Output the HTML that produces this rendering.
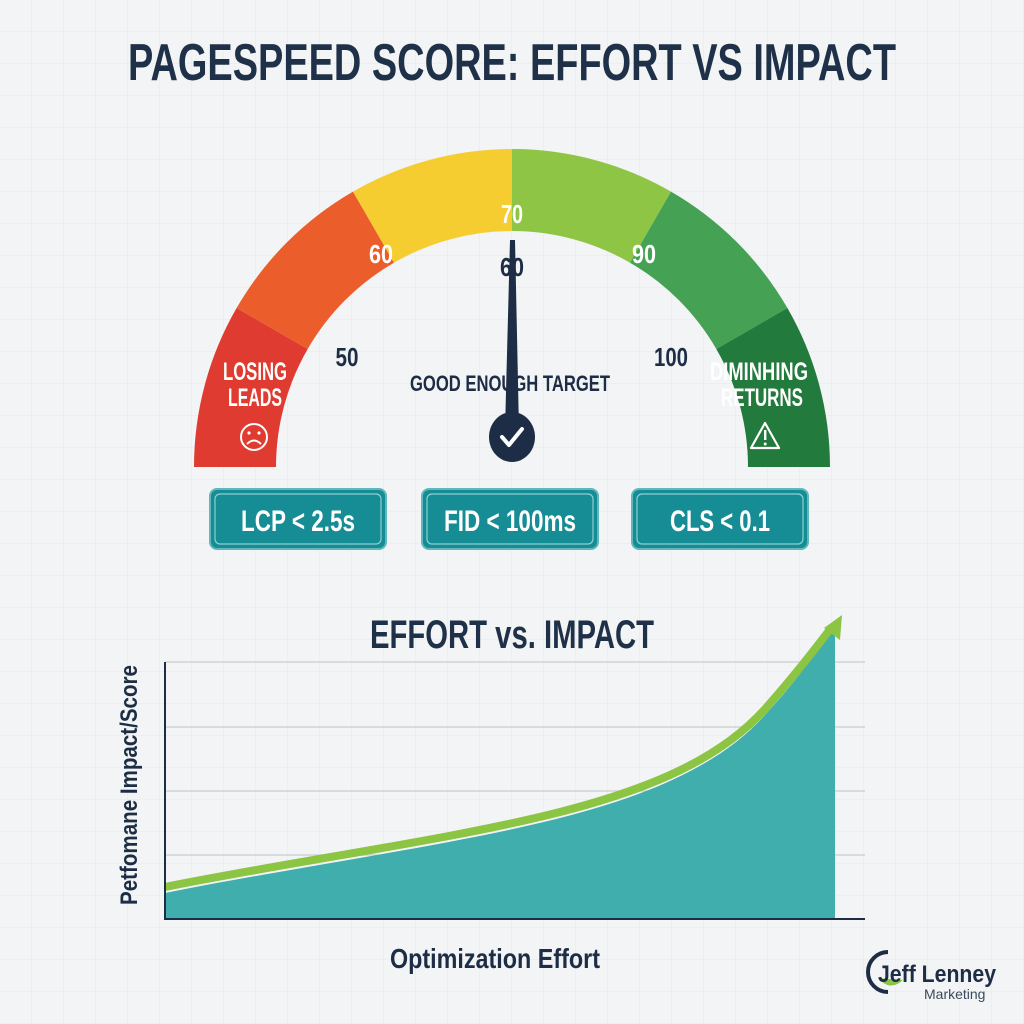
<!DOCTYPE html>
<html><head><meta charset="utf-8"><style>
html,body{margin:0;padding:0;background:#f3f4f5;}
svg{display:block;}
text{font-family:"Liberation Sans Narrow","Liberation Sans",sans-serif;font-weight:bold;}
</style></head><body>
<svg width="1024" height="1024" viewBox="0 0 1024 1024" xmlns="http://www.w3.org/2000/svg">
<defs>
<pattern id="g" width="32" height="32" patternUnits="userSpaceOnUse">
<path d="M32 0V32M0 32H32" stroke="#e4e7ea" stroke-width="1" fill="none"/>
</pattern>
</defs>
<rect width="1024" height="1024" fill="#f3f4f5"/>
<rect width="1024" height="1024" fill="url(#g)"/>
<text x="512" y="80" text-anchor="middle" font-size="52" fill="#1f3148" textLength="768" lengthAdjust="spacingAndGlyphs">PAGESPEED SCORE: EFFORT VS IMPACT</text>

<g transform="translate(512,467)">
<path d="M-318 0 A318 318 0 0 1 -275.4 -159 L-204.3 -118 A236 236 0 0 0 -236 0Z" fill="#e03b30"/>
<path d="M-275.4 -159 A318 318 0 0 1 -159 -275.4 L-118 -204.3 A236 236 0 0 0 -204.3 -118Z" fill="#eb5d2b"/>
<path d="M-159 -275.4 A318 318 0 0 1 0 -318 L0 -236 A236 236 0 0 0 -118 -204.3Z" fill="#f6cd30"/>
<path d="M0 -318 A318 318 0 0 1 159 -275.4 L118 -204.3 A236 236 0 0 0 0 -236Z" fill="#8fc545"/>
<path d="M159 -275.4 A318 318 0 0 1 275.4 -159 L204.3 -118 A236 236 0 0 0 118 -204.3Z" fill="#45a153"/>
<path d="M275.4 -159 A318 318 0 0 1 318 0 L236 0 A236 236 0 0 0 204.3 -118Z" fill="#237a3d"/>
</g>
<g font-size="26" text-anchor="middle" lengthAdjust="spacingAndGlyphs">
<text x="512" y="223" fill="#fff" textLength="22" lengthAdjust="spacingAndGlyphs">70</text>
<text x="381" y="263" fill="#fff" textLength="24" lengthAdjust="spacingAndGlyphs">60</text>
<text x="644" y="263" fill="#fff" textLength="24" lengthAdjust="spacingAndGlyphs">90</text>
<text x="512" y="276" fill="#1d2d45" textLength="24" lengthAdjust="spacingAndGlyphs">60</text>
<text x="347" y="366" fill="#1d2d45" textLength="23" lengthAdjust="spacingAndGlyphs">50</text>
<text x="671" y="366" fill="#1d2d45" textLength="34" lengthAdjust="spacingAndGlyphs">100</text>
<text x="510" y="391" fill="#1d2d45" font-size="22" textLength="200" lengthAdjust="spacingAndGlyphs">GOOD ENOUGH TARGET</text>
<text x="255" y="380" fill="#fff" font-size="25" textLength="64" lengthAdjust="spacingAndGlyphs">LOSING</text>
<text x="255" y="406" fill="#fff" font-size="25" textLength="54" lengthAdjust="spacingAndGlyphs">LEADS</text>
<text x="759" y="380" fill="#fff" font-size="25" textLength="98" lengthAdjust="spacingAndGlyphs">DIMINHING</text>
<text x="762" y="406" fill="#fff" font-size="25" textLength="82" lengthAdjust="spacingAndGlyphs">RETURNS</text>
</g>
<circle cx="254" cy="437" r="13" fill="none" stroke="#fff" stroke-width="2"/>
<circle cx="249" cy="433" r="1.6" fill="#fff"/><circle cx="259" cy="433" r="1.6" fill="#fff"/>
<path d="M247 444 Q254 437 261 444" stroke="#fff" stroke-width="2" fill="none"/>
<path d="M765 423 L779 448 L751 448Z" fill="none" stroke="#fff" stroke-width="2.2" stroke-linejoin="round"/>
<rect x="764" y="430" width="2.4" height="10" fill="#fff"/><circle cx="765.2" cy="444" r="1.5" fill="#fff"/>
<path d="M510 240 L515 240 L519 430 L505 430Z" fill="#1d2d45"/>
<ellipse cx="512" cy="437" rx="23" ry="25" fill="#1d2d45"/>
<path d="M502 437 L509 445 L522 429" stroke="#fff" stroke-width="4" fill="none" stroke-linecap="round" stroke-linejoin="round"/>

<g>
<rect x="210" y="489" width="176" height="60" rx="7" fill="#168c94" stroke="#5fb8bc" stroke-width="2"/>
<rect x="215" y="494" width="166" height="50" rx="5" fill="none" stroke="#8fd0d2" stroke-width="1.2"/>
<rect x="422" y="489" width="176" height="60" rx="7" fill="#168c94" stroke="#5fb8bc" stroke-width="2"/>
<rect x="427" y="494" width="166" height="50" rx="5" fill="none" stroke="#8fd0d2" stroke-width="1.2"/>
<rect x="632" y="489" width="176" height="60" rx="7" fill="#168c94" stroke="#5fb8bc" stroke-width="2"/>
<rect x="637" y="494" width="166" height="50" rx="5" fill="none" stroke="#8fd0d2" stroke-width="1.2"/>
<g font-size="30" fill="#fff" text-anchor="middle">
<text x="298" y="531" textLength="114" lengthAdjust="spacingAndGlyphs">LCP &lt; 2.5s</text>
<text x="510" y="531" textLength="132" lengthAdjust="spacingAndGlyphs">FID &lt; 100ms</text>
<text x="720" y="531" textLength="100" lengthAdjust="spacingAndGlyphs">CLS &lt; 0.1</text>
</g>
</g>

<text x="512" y="648" text-anchor="middle" font-size="40" fill="#1f3148" textLength="284" lengthAdjust="spacingAndGlyphs">EFFORT vs. IMPACT</text>
<g stroke="#cfd3d6" stroke-width="1.5">
<line x1="165" y1="662" x2="865" y2="662"/>
<line x1="165" y1="727" x2="865" y2="727"/>
<line x1="165" y1="791" x2="865" y2="791"/>
<line x1="165" y1="855" x2="865" y2="855"/>
</g>
<path d="M165 893 C300 866 450 846 560 818 C650 795 720 765 765 715 C800 677 822 645 835 622 L835 919 L165 919Z" fill="#40aeac"/>
<path d="M165 887 C300 860 450 840 560 812 C650 789 720 759 765 709 C798 672 818 645 831 628" stroke="#8cc443" stroke-width="8" fill="none"/>
<path d="M842 615 L824 628 L840 640Z" fill="#8cc443"/>
<line x1="165" y1="662" x2="165" y2="920" stroke="#1d2d45" stroke-width="2"/>
<line x1="164" y1="919" x2="865" y2="919" stroke="#1d2d45" stroke-width="2"/>
<text transform="translate(137,785) rotate(-90)" text-anchor="middle" font-size="24" fill="#1d2d45" style="font-family:'Liberation Sans',sans-serif" textLength="240" lengthAdjust="spacingAndGlyphs">Petfomane Impact/Score</text>
<text x="495" y="968" text-anchor="middle" font-size="28" fill="#1d2d45" textLength="210" lengthAdjust="spacingAndGlyphs">Optimization Effort</text>

<path d="M888 952 A20 20 0 1 0 888 992" stroke="#1d2d45" stroke-width="4" fill="none"/>
<path d="M878 978 Q890 992 903 980Z" fill="#8cc443"/>
<text x="878" y="982" font-size="24" fill="#1d2d45" textLength="118" lengthAdjust="spacingAndGlyphs">Jeff Lenney</text>
<text x="924" y="999" font-size="14" fill="#3a4a5c" style="font-weight:normal">Marketing</text>
</svg>
</body></html>
